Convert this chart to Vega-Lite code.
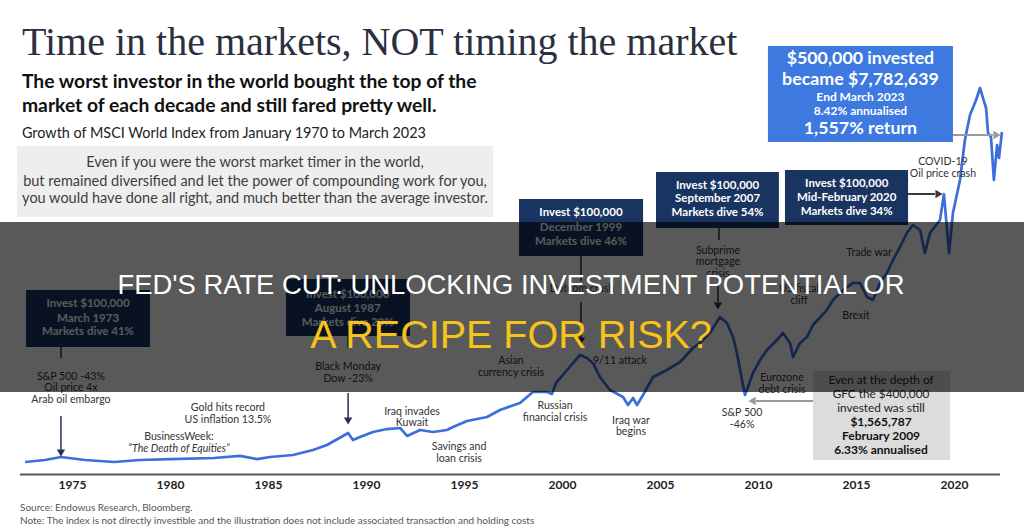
{
  "$schema": "https://vega.github.io/schema/vega-lite/v6.json",
  "width": 1024,
  "height": 531,
  "autosize": {"type": "fit", "contains": "padding"},
  "padding": 0,
  "background": "white",
  "config": {"view": {"stroke": null}},
  "encoding": {
    "x": {"field": "year", "type": "quantitative", "scale": {"domain": [1971.3, 2023.545], "nice": false, "zero": false}, "axis": null},
    "y": {"field": "value", "type": "quantitative", "scale": {"domain": [-480.4, 3980], "nice": false, "zero": false}, "axis": null}
  },
  "layer": [
    {
      "data": {"values": [{"year": 1972.17, "year_end": 1996.45, "value": 2753.6, "value_end": 2157.2}]},
      "mark": {"type": "rect", "color": "#eeeeee"},
      "encoding": {"x2": {"field": "year_end"}, "y2": {"field": "value_end"}}
    },
    {
      "data": {"values": [
        {"year": 1972.63, "year_end": 1978.95, "value": 1544, "value_end": 1065.2},
        {"year": 1985.89, "year_end": 1992.22, "value": 1636.4, "value_end": 1157.6},
        {"year": 1997.78, "year_end": 2004.11, "value": 2308.4, "value_end": 1829.6},
        {"year": 2004.77, "year_end": 2011.04, "value": 2535.2, "value_end": 2064.8},
        {"year": 2011.35, "year_end": 2017.63, "value": 2552, "value_end": 2090}
      ]},
      "mark": {"type": "rect", "color": "#1a3461"},
      "encoding": {"x2": {"field": "year_end"}, "y2": {"field": "value_end"}}
    },
    {
      "data": {"values": [{"year": 2010.48, "year_end": 2019.92, "value": 3593.6, "value_end": 2787.2}]},
      "mark": {"type": "rect", "color": "#3d79df"},
      "encoding": {"x2": {"field": "year_end"}, "y2": {"field": "value_end"}}
    },
    {
      "data": {"values": [{"year": 2012.78, "year_end": 2019.77, "value": 863.6, "value_end": 116}]},
      "mark": {"type": "rect", "color": "#dcdcdc"},
      "encoding": {"x2": {"field": "year_end"}, "y2": {"field": "value_end"}}
    },
    {
      "data": {"values": [
        {"year": 1972.58, "value": 99}, {"year": 1973.60, "value": 116}, {"year": 1974.41, "value": 141}, {"year": 1975.64, "value": 116},
        {"year": 1977.12, "value": 99}, {"year": 1978.44, "value": 116}, {"year": 1980.02, "value": 124}, {"year": 1982.22, "value": 133},
        {"year": 1983.54, "value": 150}, {"year": 1984.41, "value": 124}, {"year": 1985.08, "value": 141}, {"year": 1986.25, "value": 158},
        {"year": 1987.27, "value": 200}, {"year": 1987.98, "value": 242}, {"year": 1988.80, "value": 318}, {"year": 1989.06, "value": 343},
        {"year": 1989.31, "value": 284}, {"year": 1989.67, "value": 309}, {"year": 1990.33, "value": 351}, {"year": 1991.04, "value": 376},
        {"year": 1991.71, "value": 385}, {"year": 1992.07, "value": 318}, {"year": 1992.73, "value": 368}, {"year": 1993.39, "value": 351},
        {"year": 1994.11, "value": 368}, {"year": 1994.41, "value": 393}, {"year": 1995.13, "value": 444}, {"year": 1996.15, "value": 477},
        {"year": 1996.81, "value": 536}, {"year": 1997.83, "value": 595}, {"year": 1998.49, "value": 687}, {"year": 1999.21, "value": 687},
        {"year": 1999.46, "value": 670}, {"year": 1999.67, "value": 763}, {"year": 2000.23, "value": 872}, {"year": 2000.89, "value": 998},
        {"year": 2001.25, "value": 973}, {"year": 2001.55, "value": 931}, {"year": 2001.91, "value": 813}, {"year": 2002.42, "value": 704},
        {"year": 2003.09, "value": 645}, {"year": 2003.34, "value": 578}, {"year": 2003.60, "value": 637}, {"year": 2003.80, "value": 578},
        {"year": 2004.11, "value": 662}, {"year": 2004.62, "value": 813}, {"year": 2005.33, "value": 872}, {"year": 2006.00, "value": 939},
        {"year": 2006.66, "value": 1057}, {"year": 2007.01, "value": 1099}, {"year": 2007.52, "value": 1183}, {"year": 2008.03, "value": 1317},
        {"year": 2008.39, "value": 1267}, {"year": 2008.70, "value": 1149}, {"year": 2008.90, "value": 1015}, {"year": 2009.06, "value": 872},
        {"year": 2009.31, "value": 662}, {"year": 2009.72, "value": 847}, {"year": 2010.08, "value": 956}, {"year": 2010.43, "value": 1040},
        {"year": 2010.94, "value": 1124}, {"year": 2011.25, "value": 1183}, {"year": 2011.61, "value": 1099}, {"year": 2011.76, "value": 981},
        {"year": 2012.12, "value": 1099}, {"year": 2012.47, "value": 1149}, {"year": 2012.78, "value": 1250}, {"year": 2013.49, "value": 1376},
        {"year": 2013.80, "value": 1460}, {"year": 2014.31, "value": 1544}, {"year": 2014.82, "value": 1603}, {"year": 2015.18, "value": 1603},
        {"year": 2015.53, "value": 1485}, {"year": 2015.84, "value": 1460}, {"year": 2016.20, "value": 1603}, {"year": 2016.55, "value": 1687},
        {"year": 2016.86, "value": 1796}, {"year": 2017.22, "value": 1905}, {"year": 2017.57, "value": 2023}, {"year": 2017.88, "value": 2090},
        {"year": 2018.24, "value": 2048}, {"year": 2018.49, "value": 1855}, {"year": 2018.75, "value": 2023}, {"year": 2019.26, "value": 2132},
        {"year": 2019.46, "value": 2350}, {"year": 2019.72, "value": 1855}, {"year": 2019.92, "value": 2191}, {"year": 2020.28, "value": 2468},
        {"year": 2020.53, "value": 2804}, {"year": 2020.79, "value": 3014}, {"year": 2021.10, "value": 3140}, {"year": 2021.30, "value": 3241},
        {"year": 2021.45, "value": 3157}, {"year": 2021.61, "value": 3073}, {"year": 2021.71, "value": 2863}, {"year": 2021.86, "value": 2829},
        {"year": 2022.01, "value": 2468}, {"year": 2022.17, "value": 2762}, {"year": 2022.27, "value": 2653}, {"year": 2022.42, "value": 2871}
      ]},
      "mark": {"type": "line", "color": "#3b6fd9", "strokeWidth": 2.7, "strokeJoin": "round"},
      "encoding": {}
    },
    {
      "data": {"values": [
        {"year": 1974.41, "year_end": 1974.41, "value": 1065.2, "value_end": 972.8},
        {"year": 1974.41, "year_end": 1974.41, "value": 485.6, "value_end": 200},
        {"year": 1989.06, "year_end": 1989.06, "value": 1157.6, "value_end": 1056.8},
        {"year": 1989.06, "year_end": 1989.06, "value": 678.8, "value_end": 468.8},
        {"year": 2000.94, "year_end": 2000.94, "value": 1829.6, "value_end": 1619.6},
        {"year": 2000.94, "year_end": 2000.94, "value": 1443.2, "value_end": 1140.8},
        {"year": 2007.98, "year_end": 2007.98, "value": 2064.8, "value_end": 1964},
        {"year": 2007.93, "year_end": 2007.93, "value": 1611.2, "value_end": 1443.2}
      ]},
      "mark": {"type": "rule", "color": "#26334d", "strokeWidth": 1.5},
      "encoding": {"x2": {"field": "year_end"}, "y2": {"field": "value_end"}}
    },
    {
      "data": {"values": [{"year": 2017.63, "year_end": 2019.0, "value": 2350.4, "value_end": 2350.4}]},
      "mark": {"type": "rule", "color": "#3a3a3a", "strokeWidth": 2},
      "encoding": {"x2": {"field": "year_end"}, "y2": {"field": "value_end"}}
    },
    {
      "data": {"values": [
        {"year": 2019.92, "year_end": 2021.96, "value": 2846, "value_end": 2846},
        {"year": 2012.78, "year_end": 2009.87, "value": 611.6, "value_end": 611.6}
      ]},
      "mark": {"type": "rule", "color": "#9a9a9a", "strokeWidth": 2},
      "encoding": {"x2": {"field": "year_end"}, "y2": {"field": "value_end"}}
    },
    {
      "data": {"values": [
        {"year": 1974.41, "value": 174.8}, {"year": 1989.06, "value": 443.6},
        {"year": 2000.94, "value": 1115.6}, {"year": 2007.93, "value": 1409.6}
      ]},
      "mark": {"type": "point", "shape": "triangle-down", "filled": true, "color": "#26334d", "size": 70, "opacity": 1},
      "encoding": {}
    },
    {
      "data": {"values": [{"year": 2019.21, "value": 2350.4}]},
      "mark": {"type": "point", "shape": "triangle-right", "filled": true, "color": "#3a3a3a", "size": 70, "opacity": 1},
      "encoding": {}
    },
    {
      "data": {"values": [{"year": 2022.17, "value": 2846}]},
      "mark": {"type": "point", "shape": "triangle-right", "filled": true, "color": "#9a9a9a", "size": 70, "opacity": 1},
      "encoding": {}
    },
    {
      "data": {"values": [{"year": 2009.67, "value": 611.6}]},
      "mark": {"type": "point", "shape": "triangle-left", "filled": true, "color": "#9a9a9a", "size": 70, "opacity": 1},
      "encoding": {}
    },
    {
      "data": {"values": [{"year": 1972.32, "year_end": 2022.32, "value": -6.6, "value_end": -6.6}]},
      "mark": {"type": "rule", "color": "#555555", "strokeWidth": 2},
      "encoding": {"x2": {"field": "year_end"}, "y2": {"field": "value_end"}}
    },
    {
      "data": {"values": [{"year": 1972.42, "value": 3518, "label": "Time in the markets, NOT timing the market"}]},
      "mark": {"type": "text", "font": "Liberation Serif", "fontSize": 40, "color": "#2b3040", "align": "left", "baseline": "alphabetic"},
      "encoding": {"text": {"field": "label"}}
    },
    {
      "data": {"values": [
        {"year": 1972.42, "value": 3238, "label": "The worst investor in the world bought the top of the"},
        {"year": 1972.42, "value": 3042, "label": "market of each decade and still fared pretty well."}
      ]},
      "mark": {"type": "text", "font": "Lato", "fontWeight": "bold", "fontSize": 19.3, "color": "#111111", "align": "left", "baseline": "alphabetic"},
      "encoding": {"text": {"field": "label"}}
    },
    {
      "data": {"values": [{"year": 1972.42, "value": 2818, "label": "Growth of MSCI World Index from January 1970 to March 2023"}]},
      "mark": {"type": "text", "font": "Lato", "fontSize": 14.4, "color": "#222222", "align": "left", "baseline": "alphabetic"},
      "encoding": {"text": {"field": "label"}}
    },
    {
      "data": {"values": [
        {"year": 1984.31, "value": 2608.3, "label": "Even if you were the worst market timer in the world,"},
        {"year": 1984.31, "value": 2453.7, "label": "but remained diversified and let the power of compounding work for you,"},
        {"year": 1984.31, "value": 2308.4, "label": "you would have done all right, and much better than the average investor."}
      ]},
      "mark": {"type": "text", "font": "Lato", "fontSize": 14.5, "color": "#3d3d3d", "align": "center", "baseline": "middle"},
      "encoding": {"text": {"field": "label"}}
    },
    {
      "data": {"values": [
        {"year": 2015.2, "value": 3481.9, "label": "$500,000 invested"},
        {"year": 2015.2, "value": 3308, "label": "became $7,782,639"},
        {"year": 2015.2, "value": 2896.4, "label": "1,557% return"}
      ]},
      "mark": {"type": "text", "font": "Lato", "fontWeight": "bold", "fontSize": 17.8, "color": "#ffffff", "align": "center", "baseline": "middle"},
      "encoding": {"text": {"field": "label"}}
    },
    {
      "data": {"values": [
        {"year": 2015.2, "value": 3162.7, "label": "End March 2023"},
        {"year": 2015.2, "value": 3047.6, "label": "8.42% annualised"}
      ]},
      "mark": {"type": "text", "font": "Lato", "fontWeight": "bold", "fontSize": 12, "color": "#ffffff", "align": "center", "baseline": "middle"},
      "encoding": {"text": {"field": "label"}}
    },
    {
      "data": {"values": [
        {"year": 1975.79, "value": 1426.4, "label": "Invest $100,000"},
        {"year": 1975.79, "value": 1300.4, "label": "March 1973"},
        {"year": 1975.79, "value": 1191.2, "label": "Markets dive 41%"},
        {"year": 1989.04, "value": 1502, "label": "Invest $100,000"},
        {"year": 1989.04, "value": 1381.9, "label": "August 1987"},
        {"year": 1989.04, "value": 1269.3, "label": "Markets dive 20%"},
        {"year": 2000.94, "value": 2188.3, "label": "Invest $100,000"},
        {"year": 2000.94, "value": 2067.3, "label": "December 1999"},
        {"year": 2000.94, "value": 1949.7, "label": "Markets dive 46%"},
        {"year": 2007.91, "value": 2420.1, "label": "Invest $100,000"},
        {"year": 2007.91, "value": 2305.9, "label": "September 2007"},
        {"year": 2007.91, "value": 2188.3, "label": "Markets dive 54%"},
        {"year": 2014.5, "value": 2434.4, "label": "Invest $100,000"},
        {"year": 2014.5, "value": 2319.3, "label": "Mid-February 2020"},
        {"year": 2014.5, "value": 2201.7, "label": "Markets dive 34%"}
      ]},
      "mark": {"type": "text", "font": "Lato", "fontWeight": "bold", "fontSize": 11.5, "color": "#ffffff", "align": "center", "baseline": "middle"},
      "encoding": {"text": {"field": "label"}}
    },
    {
      "data": {"values": [
        {"year": 1974.92, "value": 815.7, "label": "S&P 500 -43%"},
        {"year": 1974.92, "value": 718.3, "label": "Oil price 4x"},
        {"year": 1974.92, "value": 620, "label": "Arab oil embargo"},
        {"year": 1982.93, "value": 550.3, "label": "Gold hits record"},
        {"year": 1982.93, "value": 452, "label": "US inflation 13.5%"},
        {"year": 1980.43, "value": 306.7, "label": "BusinessWeek:"},
        {"year": 1989.06, "value": 894.7, "label": "Black Monday"},
        {"year": 1989.06, "value": 793.9, "label": "Dow -23%"},
        {"year": 1992.32, "value": 521.7, "label": "Iraq invades"},
        {"year": 1992.32, "value": 424.3, "label": "Kuwait"},
        {"year": 1994.72, "value": 222.7, "label": "Savings and"},
        {"year": 1994.72, "value": 124.4, "label": "loan crisis"},
        {"year": 1997.37, "value": 950.1, "label": "Asian"},
        {"year": 1997.37, "value": 849.3, "label": "currency crisis"},
        {"year": 2002.93, "value": 950.1, "label": "9/11 attack"},
        {"year": 1999.62, "value": 572.1, "label": "Russian"},
        {"year": 1999.62, "value": 471.3, "label": "financial crisis"},
        {"year": 2003.49, "value": 446.1, "label": "Iraq war"},
        {"year": 2003.49, "value": 348.7, "label": "begins"},
        {"year": 2009.16, "value": 508.3, "label": "S&P 500"},
        {"year": 2009.16, "value": 410, "label": "-46%"},
        {"year": 2011.2, "value": 802.3, "label": "Eurozone"},
        {"year": 2011.2, "value": 704, "label": "debt crisis"},
        {"year": 2000.99, "value": 1549.9, "label": "Dotcom crash"},
        {"year": 2007.93, "value": 1874.1, "label": "Subprime"},
        {"year": 2007.93, "value": 1776.7, "label": "mortgage"},
        {"year": 2007.93, "value": 1678.4, "label": "crisis"},
        {"year": 2012.07, "value": 1549.9, "label": "US fiscal"},
        {"year": 2012.07, "value": 1454.1, "label": "cliff"},
        {"year": 2015.64, "value": 1857.3, "label": "Trade war"},
        {"year": 2014.97, "value": 1325.6, "label": "Brexit"},
        {"year": 2019.41, "value": 2616.7, "label": "COVID-19"},
        {"year": 2019.41, "value": 2515.9, "label": "Oil price crash"}
      ]},
      "mark": {"type": "text", "font": "Lato", "fontSize": 10.6, "color": "#333333", "align": "center", "baseline": "middle"},
      "encoding": {"text": {"field": "label"}}
    },
    {
      "data": {"values": [{"year": 1980.43, "value": 208.4, "label": "“The Death of Equities”"}]},
      "mark": {"type": "text", "font": "Lato", "fontStyle": "italic", "fontSize": 10.6, "color": "#333333", "align": "center", "baseline": "middle"},
      "encoding": {"text": {"field": "label"}}
    },
    {
      "data": {"values": [
        {"year": 2016.25, "value": 788, "label": "Even at the depth of"},
        {"year": 2016.25, "value": 670.4, "label": "GFC the $400,000"},
        {"year": 2016.25, "value": 550.3, "label": "invested was still"}
      ]},
      "mark": {"type": "text", "font": "Lato", "fontSize": 11.8, "color": "#222222", "align": "center", "baseline": "middle"},
      "encoding": {"text": {"field": "label"}}
    },
    {
      "data": {"values": [
        {"year": 2016.25, "value": 432.7, "label": "$1,565,787"},
        {"year": 2016.25, "value": 315.1, "label": "February 2009"},
        {"year": 2016.25, "value": 200, "label": "6.33% annualised"}
      ]},
      "mark": {"type": "text", "font": "Lato", "fontWeight": "bold", "fontSize": 12, "color": "#111111", "align": "center", "baseline": "middle"},
      "encoding": {"text": {"field": "label"}}
    },
    {
      "data": {"values": [
        {"year": 1975, "value": -94, "label": "1975"}, {"year": 1980, "value": -94, "label": "1980"},
        {"year": 1985, "value": -94, "label": "1985"}, {"year": 1990, "value": -94, "label": "1990"},
        {"year": 1995, "value": -94, "label": "1995"}, {"year": 2000, "value": -94, "label": "2000"},
        {"year": 2005, "value": -94, "label": "2005"}, {"year": 2010, "value": -94, "label": "2010"},
        {"year": 2015, "value": -94, "label": "2015"}, {"year": 2020, "value": -94, "label": "2020"}
      ]},
      "mark": {"type": "text", "font": "Lato", "fontWeight": "bold", "fontSize": 12, "color": "#222222", "align": "center", "baseline": "middle"},
      "encoding": {"text": {"field": "label"}}
    },
    {
      "data": {"values": [
        {"year": 1972.32, "value": -312.4, "label": "Source: Endowus Research, Bloomberg."},
        {"year": 1972.32, "value": -421.6, "label": "Note: The index is not directly investible and the illustration does not include associated transaction and holding costs"}
      ]},
      "mark": {"type": "text", "font": "Lato", "fontSize": 10, "color": "#555555", "align": "left", "baseline": "alphabetic"},
      "encoding": {"text": {"field": "label"}}
    },
    {
      "data": {"values": [{"year": 1971.3, "year_end": 2023.545, "value": 2115.2, "value_end": 687.2}]},
      "mark": {"type": "rect", "color": "#000000", "opacity": 0.65},
      "encoding": {"x2": {"field": "year_end"}, "y2": {"field": "value_end"}}
    },
    {
      "data": {"values": [{"year": 1997.37, "value": 1510.4, "label": "FED'S RATE CUT: UNLOCKING INVESTMENT POTENTIAL OR"}]},
      "mark": {"type": "text", "font": "Liberation Sans", "fontSize": 27.4, "color": "#ffffff", "align": "center", "baseline": "alphabetic"},
      "encoding": {"text": {"field": "label"}}
    },
    {
      "data": {"values": [{"year": 1997.37, "value": 1056.8, "label": "A RECIPE FOR RISK?"}]},
      "mark": {"type": "text", "font": "Liberation Sans", "fontSize": 39.5, "color": "#f6c21c", "align": "center", "baseline": "alphabetic"},
      "encoding": {"text": {"field": "label"}}
    }
  ]
}
